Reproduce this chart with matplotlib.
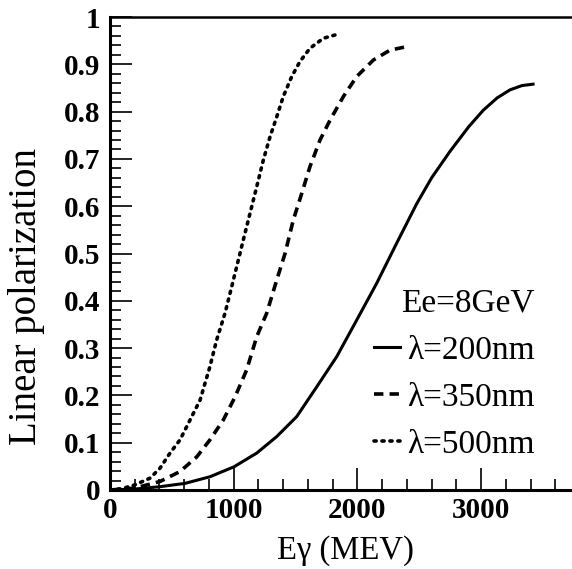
import matplotlib
matplotlib.use("Agg")
import matplotlib.pyplot as plt
from matplotlib.ticker import MultipleLocator, FixedLocator

plt.rcParams['font.family'] = ['Liberation Serif', 'DejaVu Serif']

# 200 nm (solid)
e200 = [0, 200, 404, 606, 808, 1002, 1186, 1348, 1509, 1671, 1833, 1994, 2156, 2318,
        2479, 2600, 2749, 2900, 3018, 3130, 3234, 3330, 3420]
p200 = [0, 0.002, 0.007, 0.014, 0.028, 0.049, 0.078, 0.113, 0.155, 0.218, 0.282, 0.359, 0.437, 0.522,
        0.605, 0.66, 0.716, 0.768, 0.803, 0.829, 0.846, 0.855, 0.858]
# 350 nm (dashed)
e350 = [0, 200, 404, 566, 701, 808, 916, 1011, 1105, 1186, 1267, 1348, 1415, 1482, 1550,
        1617, 1698, 1779, 1887, 1994, 2129, 2264, 2412]
p350 = [0, 0.004, 0.018, 0.039, 0.070, 0.106, 0.148, 0.197, 0.254, 0.324, 0.374, 0.444, 0.500, 0.571, 0.627,
        0.684, 0.740, 0.782, 0.832, 0.874, 0.909, 0.930, 0.938]
# 500 nm (dotted)
e500 = [0, 100, 202, 323, 404, 485, 566, 647, 728, 808, 862, 930, 984, 1024, 1078, 1132, 1186,
        1240, 1294, 1348, 1401, 1469, 1536, 1617, 1725, 1846]
p500 = [0, 0.003, 0.011, 0.025, 0.046, 0.078, 0.106, 0.148, 0.190, 0.261, 0.317, 0.374, 0.430, 0.472, 0.529, 0.585, 0.641,
        0.698, 0.747, 0.789, 0.832, 0.874, 0.906, 0.934, 0.955, 0.964]

labels = ['λ=200nm', 'λ=350nm', 'λ=500nm']
title = 'Ee=8GeV'
yticks = [0, 0.1, 0.2, 0.3, 0.4, 0.5, 0.6, 0.7, 0.8, 0.9, 1.0]
ytick_labels = ['0', '0.1', '0.2', '0.3', '0.4', '0.5', '0.6', '0.7', '0.8', '0.9', '1']
xticks = [0, 1000, 2000, 3000]

fig = plt.figure(figsize=(5.72, 5.69), dpi=100)
ax = fig.add_axes([110/572, 79/569, 1 - 110/572, (490-17)/569])

ax.plot(e200, p200, color='black', lw=2.2, ls='-', label=labels[0])
ax.plot(e350, p350, color='black', lw=2.6, ls=(0, (2.6, 1.7)), label=labels[1])
ax.plot(e500, p500, color='black', lw=2.6, ls=(0, (0.6, 1.6)), dash_capstyle='round', label=labels[2])

ax.set_xlim(0, 3735)
ax.set_ylim(0, 1)
ax.spines['right'].set_visible(False)
for s in ['left', 'bottom']:
    ax.spines[s].set_linewidth(2.2)
ax.spines['top'].set_linewidth(1.8)

ax.xaxis.set_major_locator(FixedLocator(xticks))
ax.xaxis.set_minor_locator(MultipleLocator(200))
ax.yaxis.set_major_locator(FixedLocator(yticks))
ax.yaxis.set_minor_locator(MultipleLocator(0.02))
ax.set_yticklabels(ytick_labels)
ax.tick_params(which='major', direction='in', length=16, width=1.2, top=False, right=False,
               labelsize=21)
ax.tick_params(axis='y', which='major', pad=7)
ax.tick_params(axis='x', which='major', pad=5)
ax.tick_params(which='minor', direction='in', length=8, width=1.2, top=False, right=False)
for t in ax.get_xticklabels() + ax.get_yticklabels():
    t.set_fontweight('bold')

ax.set_xlabel('Eγ (MEV)', fontsize=23.5)
ax.xaxis.set_label_coords(0.509, -0.095)
ax.set_ylabel('Linear polarization', fontsize=28)
ax.yaxis.set_label_coords(-0.14, 0.41)

leg = ax.legend(title=title, loc='lower right', bbox_to_anchor=(0.955, 0.028), frameon=False,
                fontsize=24, title_fontsize=24, handlelength=0.8, handletextpad=0.2,
                labelspacing=0.5, borderpad=0)
leg._legend_box.align = 'right'

fig.savefig('out.png', dpi=100)
